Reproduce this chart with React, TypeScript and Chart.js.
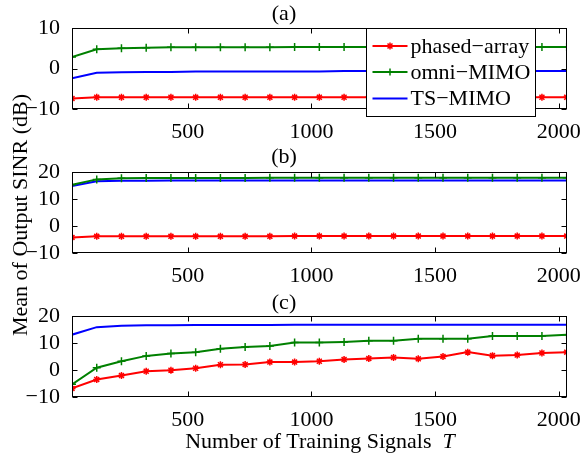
import React, { useEffect, useRef } from "react";
import { Chart, registerables } from "chart.js";
Chart.register(...registerables);

const T = [32, 132, 232, 332, 432, 532, 632, 732, 832, 932, 1032, 1132, 1232, 1332, 1432, 1532, 1632, 1732, 1832, 1932, 2032];
const xTickValues = [500, 1000, 1500, 2000];
const seriesNames = ["phased\u2212array", "omni\u2212MIMO", "TS\u2212MIMO"];
const panelTitles = ["(a)", "(b)", "(c)"];
const yTicksA = [-10, 0, 10];
const yTicksB = [-10, 0, 10, 20];
const yTicksC = [-10, 0, 10, 20];

const aPhased = [-7.4, -7.1, -7.1, -7.1, -7.1, -7.1, -7.1, -7.1, -7.1, -7.1, -7.1, -7.1, -7.1, -7.1, -7.1, -7.1, -7.1, -7.1, -7.1, -7.1, -7.1];
const aOmni = [2.9, 4.8, 5.1, 5.2, 5.3, 5.3, 5.3, 5.3, 5.3, 5.4, 5.4, 5.4, 5.4, 5.4, 5.4, 5.4, 5.4, 5.4, 5.4, 5.4, 5.4];
const aTs = [-2.4, -1.0, -0.9, -0.8, -0.8, -0.7, -0.7, -0.7, -0.7, -0.7, -0.7, -0.6, -0.6, -0.6, -0.6, -0.6, -0.6, -0.6, -0.6, -0.6, -0.6];

const bPhased = [-4.2, -3.8, -3.8, -3.8, -3.8, -3.8, -3.8, -3.8, -3.8, -3.7, -3.7, -3.7, -3.7, -3.7, -3.7, -3.7, -3.7, -3.7, -3.7, -3.7, -3.7];
const bOmni = [15.4, 17.4, 17.8, 17.9, 17.9, 17.9, 17.9, 17.9, 18.0, 18.0, 18.0, 18.0, 18.0, 18.0, 18.0, 18.0, 18.0, 18.0, 18.0, 18.0, 18.0];
const bTs = [14.9, 16.7, 16.9, 16.9, 17.0, 17.0, 17.0, 17.0, 17.0, 17.0, 17.0, 17.0, 17.0, 17.0, 17.0, 17.0, 17.0, 17.0, 17.0, 17.0, 17.0];

const cPhased = [-6.8, -3.5, -2.0, -0.4, 0.0, 0.7, 2.0, 2.1, 3.0, 3.0, 3.3, 4.0, 4.3, 4.7, 4.2, 5.1, 6.7, 5.4, 5.6, 6.4, 6.7];
const cOmni = [-5.3, 0.9, 3.3, 5.3, 6.2, 6.7, 8.0, 8.6, 9.0, 10.3, 10.3, 10.5, 10.9, 10.9, 11.7, 11.7, 11.7, 12.7, 12.7, 12.7, 13.2];
const cTs = [13.2, 16.0, 16.5, 16.7, 16.7, 16.8, 16.8, 16.8, 16.8, 16.9, 16.9, 16.9, 16.9, 16.9, 16.9, 16.9, 16.9, 16.9, 16.9, 16.9, 16.9];

const RED = "#ff0000";
const GREEN = "#008000";
const BLUE = "#0000ff";
const FONT = "'Liberation Serif', 'Times New Roman', serif";
const FS = 22;

type Panel = {
  title: string;
  yMin: number;
  yMax: number;
  yTicks: number[];
  phased: number[];
  omni: number[];
  ts: number[];
  top: number;
  height: number;
  titlePadTop: number;
  titlePadBottom: number;
  xHeight: number;
  legend: boolean;
};

const panels: Panel[] = [
  { title: panelTitles[0], yMin: -10, yMax: 10, yTicks: yTicksA, phased: aPhased, omni: aOmni, ts: aTs, top: 0, height: 143, titlePadTop: 1, titlePadBottom: 1, xHeight: 34, legend: true },
  { title: panelTitles[1], yMin: -10, yMax: 20, yTicks: yTicksB, phased: bPhased, omni: bOmni, ts: bTs, top: 143, height: 143, titlePadTop: 1, titlePadBottom: 2, xHeight: 33, legend: false },
  { title: panelTitles[2], yMin: -10, yMax: 20, yTicks: yTicksC, phased: cPhased, omni: cOmni, ts: cTs, top: 286, height: 171, titlePadTop: 4, titlePadBottom: 0, xHeight: 60, legend: false },
];

function drawMarker(ctx: CanvasRenderingContext2D, kind: string, x: number, y: number, r: number) {
  ctx.beginPath();
  ctx.moveTo(x - r, y); ctx.lineTo(x + r, y);
  ctx.moveTo(x, y - r); ctx.lineTo(x, y + r);
  if (kind === "star") {
    const d = r * 0.7071;
    ctx.moveTo(x - d, y - d); ctx.lineTo(x + d, y + d);
    ctx.moveTo(x - d, y + d); ctx.lineTo(x + d, y - d);
  }
  ctx.stroke();
}

const framePlugin = {
  id: "matlabFrame",
  afterDraw(chart: any) {
    const { ctx, chartArea } = chart;
    const { left, right, top, bottom } = chartArea;
    const xs = chart.scales.x;
    const ys = chart.scales.y;
    const panel: Panel = chart.options.plugins.matlabFrame.panel;
    ctx.save();
    ctx.strokeStyle = "#000";
    ctx.lineWidth = 1;
    const L = Math.round(left) + 0.5, R = Math.round(right) - 0.5, Tp = Math.round(top) + 0.5, B = Math.round(bottom) - 0.5;
    ctx.strokeRect(L, Tp, R - L, B - Tp);
    const tl = 5;
    ctx.beginPath();
    for (const v of xTickValues) {
      const px = Math.round(xs.getPixelForValue(v)) + 0.5;
      ctx.moveTo(px, B); ctx.lineTo(px, B - tl);
      ctx.moveTo(px, Tp); ctx.lineTo(px, Tp + tl);
    }
    for (const v of panel.yTicks) {
      const py = Math.round(ys.getPixelForValue(v)) + 0.5;
      ctx.moveTo(L, py); ctx.lineTo(L + tl, py);
      ctx.moveTo(R, py); ctx.lineTo(R - tl, py);
    }
    ctx.stroke();

    if (panel.legend) {
      const bx = Math.round(left + 294) + 0.5;
      const by = Math.round(top) + 0.5;
      const bw = 169, bh = 88;
      ctx.fillStyle = "#fff";
      ctx.fillRect(bx, by, bw, bh);
      ctx.strokeStyle = "#000";
      ctx.strokeRect(bx, by, bw, bh);
      const rows = [17.5, 43.5, 70];
      const colors = [RED, GREEN, BLUE];
      const markers = ["star", "cross", ""];
      ctx.font = `${FS}px ${FONT}`;
      ctx.textBaseline = "middle";
      ctx.textAlign = "left";
      rows.forEach((ry, i) => {
        const yy = by + ry;
        ctx.strokeStyle = colors[i];
        ctx.lineWidth = 2;
        ctx.beginPath();
        ctx.moveTo(bx + 6, yy); ctx.lineTo(bx + 41, yy);
        ctx.stroke();
        if (markers[i]) {
          ctx.lineWidth = 1.5;
          drawMarker(ctx, markers[i], bx + 23.5, yy, 3.5);
        }
        ctx.fillStyle = "#000";
        ctx.fillText(seriesNames[i], bx + 44, yy + 1);
      });
    }
    ctx.restore();
  },
};

function PanelChart({ panel }: { panel: Panel }) {
  const ref = useRef<HTMLCanvasElement>(null);
  useEffect(() => {
    if (!ref.current) return;
    const mk = (vals: number[]) => T.map((x, i) => ({ x, y: vals[i] }));
    const chart = new Chart(ref.current, {
      type: "line",
      data: {
        datasets: [
          { label: seriesNames[0], data: mk(panel.phased), borderColor: RED, backgroundColor: RED, borderWidth: 2, pointStyle: "star", pointRadius: 3.5, pointBorderWidth: 1.5, pointBorderColor: RED, tension: 0 },
          { label: seriesNames[1], data: mk(panel.omni), borderColor: GREEN, backgroundColor: GREEN, borderWidth: 2, pointStyle: "cross", pointRadius: 4, pointBorderWidth: 1.5, pointBorderColor: GREEN, tension: 0 },
          { label: seriesNames[2], data: mk(panel.ts), borderColor: BLUE, backgroundColor: BLUE, borderWidth: 2, pointRadius: 0, tension: 0 },
        ],
      },
      options: {
        responsive: false,
        animation: false,
        layout: { padding: { left: 0, right: 15, top: 0, bottom: 0 } },
        plugins: {
          legend: { display: false },
          tooltip: { enabled: false },
          title: {
            display: true,
            text: panel.title,
            color: "#000",
            font: { family: FONT, size: FS, weight: "normal", lineHeight: 1.2 },
            padding: { top: panel.titlePadTop, bottom: panel.titlePadBottom },
          },
          matlabFrame: { panel },
        } as any,
        scales: {
          x: {
            type: "linear",
            min: T[0],
            max: T[T.length - 1],
            grid: { display: false },
            border: { display: false },
            afterBuildTicks: (s: any) => { s.ticks = xTickValues.map((v) => ({ value: v })); },
            afterFit: (s: any) => { s.height = panel.xHeight; },
            ticks: {
              color: "#000",
              font: { family: FONT, size: FS },
              padding: 2,
              maxRotation: 0,
              autoSkip: false,
              callback: (v: any) => String(v),
            },
          },
          y: {
            type: "linear",
            min: panel.yMin,
            max: panel.yMax,
            grid: { display: false },
            border: { display: false },
            afterBuildTicks: (s: any) => { s.ticks = panel.yTicks.map((v) => ({ value: v })); },
            afterFit: (s: any) => { s.width = 72; },
            ticks: {
              color: "#000",
              font: { family: FONT, size: FS },
              padding: 4,
              autoSkip: false,
              callback: (v: any) => String(v).replace("-", "\u2212"),
            },
          },
        },
      },
      plugins: [framePlugin],
    } as any);
    return () => chart.destroy();
  }, [panel]);
  return (
    <canvas
      ref={ref}
      width={583}
      height={panel.height}
      style={{ position: "absolute", left: 0, top: panel.top, width: 583, height: panel.height }}
    />
  );
}

export default function App() {
  return (
    <div style={{ position: "absolute", left: 0, top: 0, width: 583, height: 457, background: "#fff", overflow: "hidden" }}>
      {panels.map((p, i) => (
        <PanelChart key={i} panel={p} />
      ))}
      <div
        style={{
          position: "absolute",
          left: 20 - 150,
          top: 215 - 13,
          width: 300,
          height: 26,
          lineHeight: "26px",
          textAlign: "center",
          transform: "rotate(-90deg)",
          fontFamily: FONT,
          fontSize: FS,
          color: "#000",
          whiteSpace: "nowrap",
        }}
      >
        Mean of Output SINR (dB)
      </div>
      <div
        style={{
          position: "absolute",
          left: 72,
          top: 441 - 13,
          width: 496,
          height: 26,
          lineHeight: "26px",
          textAlign: "center",
          fontFamily: FONT,
          fontSize: FS,
          color: "#000",
          whiteSpace: "nowrap",
        }}
      >
        Number of Training Signals{"\u00a0\u00a0"}<i>T</i>
      </div>
    </div>
  );
}
